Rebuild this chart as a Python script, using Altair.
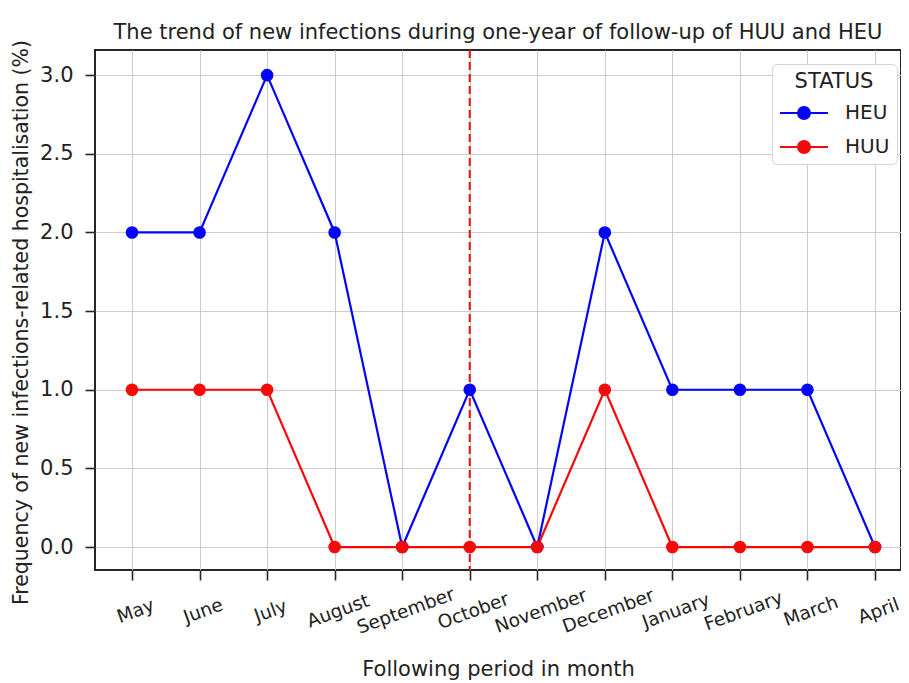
import altair as alt
import pandas as pd

months = ["May", "June", "July", "August", "September", "October",
          "November", "December", "January", "February", "March", "April"]
heu = [2, 2, 3, 2, 0, 1, 0, 2, 1, 1, 1, 0]
huu = [1, 1, 1, 0, 0, 0, 0, 1, 0, 0, 0, 0]
statuses = ["HEU", "HUU"]
colors = ["#0505f5", "#f50a0a"]
marker_month = "October"
y_ticks = [0.0, 0.5, 1.0, 1.5, 2.0, 2.5, 3.0]
title_text = "The trend of new infections during one-year of follow-up of HUU and HEU"

rows = []
for s, vals in zip(statuses, [heu, huu]):
    for i, (m, v) in enumerate(zip(months, vals)):
        rows.append({"idx": i, "month": m, "status": s, "value": v})
df = pd.DataFrame(rows)
rule_df = pd.DataFrame({"idx": [months.index(marker_month)]})

FONT = "DejaVu Sans"
TXT = "#222222"
month_arr = "[" + ",".join(f"'{m}'" for m in months) + "]"
label_expr = month_arr + "[datum.value]"

x_enc = alt.X(
    "idx:Q",
    scale=alt.Scale(domain=[-0.548, 11.385], nice=False, zero=False),
    axis=alt.Axis(
        values=list(range(len(months))),
        labelExpr=label_expr,
        labelAngle=340,
        labelAlign="center",
        labelBaseline="top",
        labelPadding=22,
        labelFontSize=18.5,
        labelOverlap=False,
        labelBound=False,
        title="Following period in month",
        titleX=403,
        titleY=105,
        titleFontSize=21,
        titleBaseline="alphabetic",
        titleAnchor="middle",
    ),
)
y_enc = alt.Y(
    "value:Q",
    scale=alt.Scale(domain=[-0.146, 3.16], nice=False, zero=False),
    axis=alt.Axis(
        values=y_ticks,
        format=".1f",
        labelFontSize=21,
        labelPadding=12,
        title="Frequency of new infections-related hospitalisation (%)",
        titleX=-64,
        titleY=272,
        titleAngle=270,
        titleFontSize=20.5,
        titleBaseline="bottom",
        titleAnchor="middle",
    ),
)

legend_path = "M-1,0L3,0M0.5,0A0.5,0.5,0,1,1,1.5,0A0.5,0.5,0,1,1,0.5,0Z"
color_enc = alt.Color(
    "status:N",
    scale=alt.Scale(domain=statuses, range=colors),
    legend=alt.Legend(
        title="STATUS",
        orient="none",
        legendX=677,
        legendY=14,
        titleAnchor="middle",
        titleFont=FONT,
        titleFontSize=21,
        titleFontWeight="normal",
        titleColor=TXT,
        titlePadding=8,
        labelFont=FONT,
        labelFontSize=20,
        labelColor=TXT,
        symbolType=legend_path,
        symbolSize=576,
        symbolStrokeWidth=2,
        rowPadding=11,
        labelOffset=40,
        padding=7,
        strokeColor="#d4d4d4",
        fillColor="white",
        cornerRadius=5,
    ),
)

rule = alt.Chart(rule_df).mark_rule(
    color="#e01010", strokeDash=[8, 4], strokeWidth=2
).encode(x=alt.X("idx:Q"))

lines = alt.Chart(df).mark_line(strokeWidth=2.2).encode(
    x=x_enc, y=y_enc, color=color_enc, detail="status:N"
)
points = alt.Chart(df).mark_circle(size=160, opacity=1).encode(
    x=x_enc, y=y_enc, color=color_enc
)

chart = alt.layer(rule, lines, points).properties(
    width=806,
    height=520,
    title=alt.Title(
        title_text, fontSize=21, font=FONT, fontWeight="normal",
        offset=0, dy=21, baseline="alphabetic", anchor="middle", color=TXT,
        frame="group"
    ),
    autosize=alt.AutoSizeParams(type="none"),
    padding={"left": 87, "top": 42, "right": 0, "bottom": 113},
).configure_view(
    stroke="#262626", strokeWidth=2
).configure_axis(
    gridColor="#cccccc", gridWidth=1, domain=False,
    tickColor="#262626", tickWidth=1.6, tickSize=10,
    labelFont=FONT, labelColor=TXT,
    titleFont=FONT, titleFontWeight="normal", titleColor=TXT,
)

chart.save("out.html", embed_options={"renderer": "svg", "actions": False})
